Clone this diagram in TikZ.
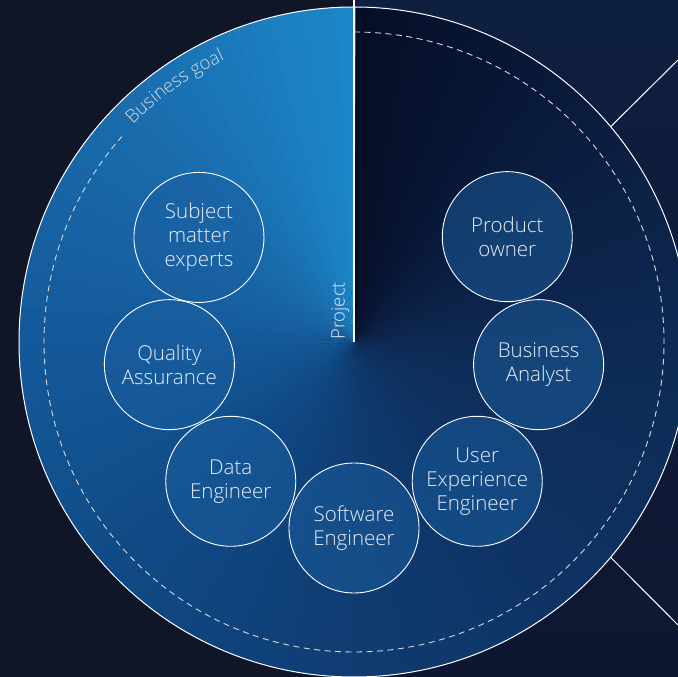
\documentclass[tikz,border=0pt]{standalone}
\usepackage{fontspec}
\setmainfont{Open Sans}[UprightFont={* Light}]
\usetikzlibrary{calc,decorations.text}

% palette
\definecolor{bgleft}{HTML}{101628}
\definecolor{bgrighttop}{HTML}{0F1F40}
\definecolor{bgrightbot}{HTML}{0E1731}
\definecolor{txt}{HTML}{E8EEF6}
\definecolor{memberfill}{HTML}{1B5FA0}
% conic ramp, clockwise from twelve o'clock, one stop every 45 degrees
\definecolor{k0}{HTML}{050E28}
\definecolor{k1}{HTML}{0A1C3E}
\definecolor{k2}{HTML}{0E2A54}
\definecolor{k3}{HTML}{0E3262}
\definecolor{k4}{HTML}{0F3C72}
\definecolor{k5}{HTML}{104A86}
\definecolor{k6}{HTML}{14599A}
\definecolor{k7}{HTML}{1A6CAC}
\definecolor{k8}{HTML}{1B88CA}

\tikzset{
  member/.style={circle, draw=white, line width=0.9pt, minimum size=130pt,
    inner sep=0pt, fill=memberfill, fill opacity=0.5, text opacity=1,
    text=txt, align=center, font=\fontsize{20.5}{24}\selectfont},
  rimline/.style={draw=white, line width=1pt},
  goalring/.style={draw=white!85!black, line width=0.9pt, dash pattern=on 6pt off 4.5pt},
}

\begin{document}
\begin{tikzpicture}[x=1pt, y=1pt]
  \useasboundingbox (0,0) rectangle (678,677);

  % backdrop
  \fill[bgleft] (0,0) rectangle (354,677);
  \shade[top color=bgrighttop, bottom color=bgrightbot] (354,0) rectangle (678,677);

  \coordinate (C) at (354,335);
  \coordinate (top) at (354,677);

  % conic fill of the disc
  \begin{scope}
    \clip (C) circle[radius=335pt];
    \foreach \ta/\ca/\cb in {0/k0/k1, 45/k1/k2, 90/k2/k3, 135/k3/k4,
                             180/k4/k5, 225/k5/k6, 270/k6/k7, 315/k7/k8} {
      \foreach \k in {0,...,14} {
        \pgfmathtruncatemacro\p{100 - \k*100/15}
        \pgfmathsetmacro\th{90 - \ta - 3*\k}
        \fill[color=\ca!\p!\cb] (C) -- ($(C)+(\th:345pt)$)
          arc[start angle=\th, end angle=\th-3.3, radius=345pt] -- cycle;
      }
    }
  \end{scope}

  % rim of the disc
  \draw[rimline] (C) circle[radius=335pt];

  % the two rays leaving the rim on the right
  \coordinate (rayA) at ($(C)+(40:335pt)$);
  \coordinate (rayAend) at (678,617);
  \coordinate (rayB) at ($(C)+(-40:335pt)$);
  \coordinate (rayBend) at (678,52);
  \draw[rimline] (rayA) -- (rayAend);
  \draw[rimline] (rayB) -- (rayBend);

  % business goal ring
  \coordinate (ringstart) at ($(C)+(90:310pt)$);
  \draw[goalring] (ringstart) arc[start angle=90, end angle=-221.5, radius=310pt];
  \path[decorate, decoration={text along path, text align=left,
      text={|\fontsize{18.5}{20}\selectfont\color{txt!92!black}|Business goal}}]
    ($(C)+(135.5:310pt)$) arc[start angle=135.5, end angle=100, radius=310pt];

  % project axis
  \draw[white, line width=1.3pt] (C) -- (top);
  \node[rotate=90, anchor=base west, inner sep=0pt, text=txt,
        font=\fontsize{18.5}{20}\selectfont] (project) at (344.5,337) {Project};

  % team members
  \node[member] (sme)  at ($(C)+(146:187pt)$)   {Subject\\matter\\experts};
  \node[member] (qa)   at ($(C)+(187:186pt)$)   {Quality\\Assurance};
  \node[member] (de)   at ($(C)+(228.5:186pt)$) {Data\\Engineer};
  \node[member] (se)   at ($(C)+(270:186pt)$)   {Software\\Engineer};
  \node[member] (ux)   at ($(C)+(311.5:186pt)$) {User\\Experience\\Engineer};
  \node[member] (ba)   at ($(C)+(353:186pt)$)   {Business\\Analyst};
  \node[member] (po)   at ($(C)+(34.5:186pt)$)  {Product\\owner};
\end{tikzpicture}
\end{document}
